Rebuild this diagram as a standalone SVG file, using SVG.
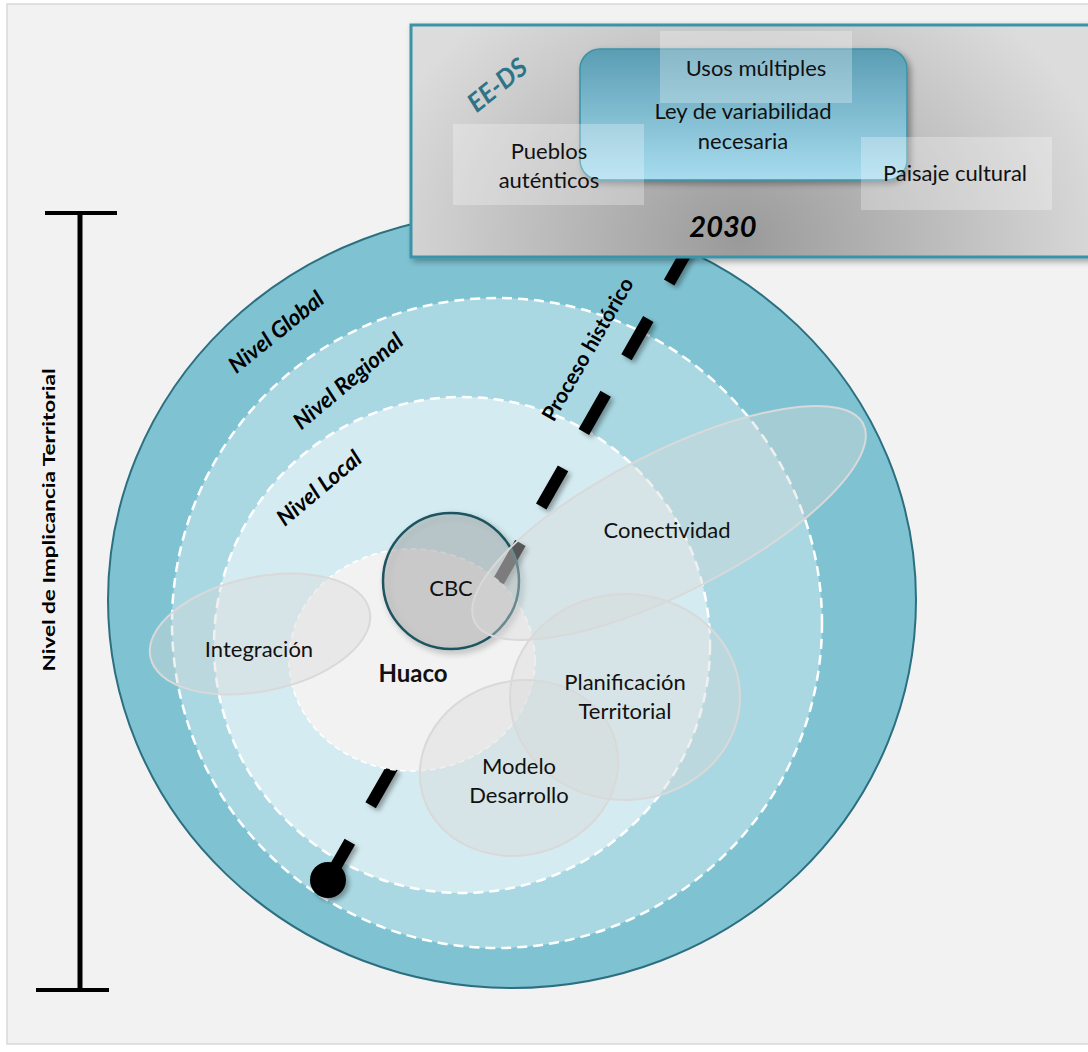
<svg xmlns="http://www.w3.org/2000/svg" width="1088" height="1052" viewBox="0 0 1088 1052">
<defs>
<radialGradient id="boxGrad" gradientUnits="userSpaceOnUse" cx="740" cy="240" r="380" gradientTransform="translate(740 240) scale(1 0.8) translate(-740 -240)">
<stop offset="0" stop-color="#9a9a9a"/>
<stop offset="1" stop-color="#dcdcdc"/>
</radialGradient>
<linearGradient id="leyGrad" x1="0" y1="0" x2="0" y2="1">
<stop offset="0" stop-color="#5a9db3"/>
<stop offset="1" stop-color="#a8dcef"/>
</linearGradient>
<filter id="shadow" x="-20%" y="-20%" width="140%" height="140%">
<feDropShadow dx="3" dy="3" stdDeviation="3" flood-color="#000" flood-opacity="0.35"/>
</filter>
<filter id="dashShadow" x="-20%" y="-20%" width="140%" height="140%">
<feDropShadow dx="3" dy="3" stdDeviation="2.5" flood-color="#000" flood-opacity="0.35"/>
</filter>
<style>
.t{font-family:Lato,"Liberation Sans",sans-serif;fill:#111;font-size:22px;text-anchor:middle}
.lvl{font-family:Lato,"Liberation Sans",sans-serif;font-weight:bold;font-style:italic;font-size:22.5px;fill:#000;text-anchor:middle}
.dashc{fill:none;stroke:#fff;stroke-width:2.5;stroke-dasharray:10 6}
.ov{fill:#d9d9d9;fill-opacity:0.4;stroke:#d9d9d9;stroke-width:2}
.wb{fill:#fff;fill-opacity:0.28}
</style>
</defs>

<g id="background">
<rect x="7" y="4" width="1090" height="1040" fill="#f2f2f2" stroke="#d9d9d9" stroke-width="1.5"/>
</g>

<g id="axis">
<line x1="80" y1="213" x2="80" y2="990" stroke="#000" stroke-width="5"/>
<line x1="45" y1="213" x2="117" y2="213" stroke="#000" stroke-width="4"/>
<line x1="36" y1="990" x2="109" y2="990" stroke="#000" stroke-width="4"/>
<text x="50" y="520" transform="rotate(-90 50 520)" style="font-family:Lato,'Liberation Sans',sans-serif;font-weight:bold;font-size:17px;text-anchor:middle;fill:#000" textLength="303" lengthAdjust="spacingAndGlyphs" dy="5">Nivel de Implicancia Territorial</text>
</g>

<g id="nivel-global">
<ellipse cx="512" cy="600" rx="404" ry="388" fill="#7fc3d3" stroke="#2b6f80" stroke-width="2"/>
</g>
<g id="nivel-regional">
<circle cx="497" cy="623" r="325" class="dashc" style="fill:#a9d8e3"/>
</g>
<g id="nivel-local">
<circle cx="462" cy="645" r="248" class="dashc" style="fill:#d4ecf1"/>
</g>

<g id="connectors">
<path d="M328 880 L706 218" fill="none" stroke="#000" stroke-width="12" stroke-dasharray="44 42" filter="url(#dashShadow)"/>
<circle cx="328" cy="880" r="18" fill="#000" filter="url(#dashShadow)"/>
</g>

<g id="huaco">
<ellipse cx="412" cy="660" rx="123" ry="111" fill="#f2f2f2" stroke="#fff" stroke-width="1.5" stroke-dasharray="6 4"/>
</g>

<g id="cbc">
<circle cx="451" cy="581" r="68" fill="#a0a0a0" fill-opacity="0.35" stroke="#1f5560" stroke-width="2.5" filter="url(#shadow)"/>
</g>

<g id="integracion">
<ellipse cx="260" cy="634" rx="112" ry="57" transform="rotate(-12 260 634)" class="ov"/>
</g>
<g id="conectividad">
<ellipse cx="669" cy="523" rx="218" ry="70" transform="rotate(-27 669 523)" class="ov"/>
</g>
<g id="planificacion">
<ellipse cx="625" cy="697" rx="115" ry="103" class="ov"/>
</g>
<g id="modelo">
<ellipse cx="519" cy="768" rx="100" ry="87" transform="rotate(-15 519 768)" class="ov"/>
</g>

<g id="labels">
<text class="lvl" x="281" y="338" transform="rotate(-39 281 338)">Nivel Global</text>
<text class="lvl" x="353" y="387" transform="rotate(-40 353 387)">Nivel Regional</text>
<text class="lvl" x="324" y="494" transform="rotate(-40 324 494)">Nivel Local</text>
<text class="lvl" x="594" y="353" transform="rotate(-60 594 353)" style="font-style:normal;font-size:21px">Proceso histórico</text>
<text class="t" x="667" y="538">Conectividad</text>
<text class="t" x="451" y="596">CBC</text>
<text class="t" x="259" y="657">Integración</text>
<text class="t" x="413" y="682" style="font-weight:bold;font-size:24px">Huaco</text>
<text class="t" x="625" y="690">Planificación</text>
<text class="t" x="625" y="719">Territorial</text>
<text class="t" x="519" y="774">Modelo</text>
<text class="t" x="519" y="803">Desarrollo</text>
</g>

<g id="ee-ds-2030">
<rect x="411" y="25" width="680" height="232" fill="url(#boxGrad)" stroke="#3a93a8" stroke-width="3" filter="url(#shadow)"/>
<rect x="580" y="49" width="327" height="131" rx="20" ry="20" fill="url(#leyGrad)" stroke="#3a93a8" stroke-width="1.5" filter="url(#shadow)"/>
<rect class="wb" x="660" y="31" width="192" height="72"/>
<rect class="wb" x="453" y="124" width="191" height="81"/>
<rect class="wb" x="861" y="137" width="191" height="73"/>
<text class="t" x="756" y="76">Usos múltiples</text>
<text class="t" x="743" y="119">Ley de variabilidad</text>
<text class="t" x="743" y="149">necesaria</text>
<text class="t" x="549" y="159">Pueblos</text>
<text class="t" x="549" y="188">auténticos</text>
<text class="t" x="955" y="181">Paisaje cultural</text>
<text x="723" y="237" style="font-family:Lato,'Liberation Sans',sans-serif;font-weight:bold;font-style:italic;font-size:29px;text-anchor:middle;fill:#000">2030</text>
<text x="503" y="92" transform="rotate(-39 503 92)" style="font-family:Lato,'Liberation Sans',sans-serif;font-weight:bold;font-style:italic;font-size:26px;text-anchor:middle;fill:#2e7486">EE-DS</text>
</g>
</svg>
